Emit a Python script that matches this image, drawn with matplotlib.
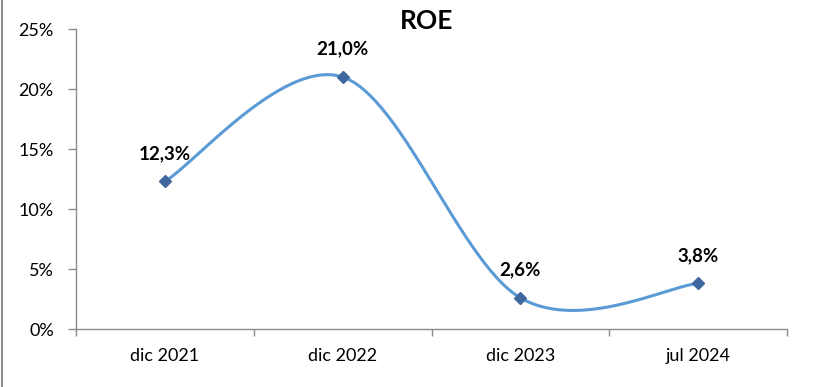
import numpy as np
import matplotlib
matplotlib.use('Agg')
import matplotlib.pyplot as plt
from matplotlib.lines import Line2D
from matplotlib.ticker import FuncFormatter, MultipleLocator


# data
categories = ['dic 2021', 'dic 2022', 'dic 2023', 'jul 2024']
roe = [12.3, 21.0, 2.6, 3.8]
labels = ['12,3%', '21,0%', '2,6%', '3,8%']

plt.rcParams['font.family'] = ['Lato', 'DejaVu Sans']

line_colour = '#5b9bd5'
marker_colour = '#41689e'
axis_colour = '#8c8c8c'


def smooth(xs, ys, n=60):
    # excel-like smoothing: cubic bezier with catmull-rom tangents
    px = [xs[0]] + list(xs) + [xs[-1]]
    py = [ys[0]] + list(ys) + [ys[-1]]
    out_x, out_y = [], []
    t = np.linspace(0, 1, n)
    for i in range(1, len(px) - 2):
        x0, x1, x2, x3 = px[i - 1], px[i], px[i + 1], px[i + 2]
        y0, y1, y2, y3 = py[i - 1], py[i], py[i + 1], py[i + 2]
        c1x, c1y = x1 + (x2 - x0) / 6, y1 + (y2 - y0) / 6
        c2x, c2y = x2 - (x3 - x1) / 6, y2 - (y3 - y1) / 6
        bx = (1 - t) ** 3 * x1 + 3 * (1 - t) ** 2 * t * c1x + 3 * (1 - t) * t ** 2 * c2x + t ** 3 * x2
        by = (1 - t) ** 3 * y1 + 3 * (1 - t) ** 2 * t * c1y + 3 * (1 - t) * t ** 2 * c2y + t ** 3 * y2
        out_x.extend(bx)
        out_y.extend(by)
    return np.array(out_x), np.array(out_y)


fig = plt.figure(figsize=(8.14, 3.87), dpi=100)
ax = fig.add_axes([76 / 814, 1 - 329 / 387, (787 - 76) / 814, 300 / 387])

xs = np.arange(len(categories))
sx, sy = smooth(xs, roe)
ax.plot(sx, sy, color=line_colour, linewidth=2.2, solid_capstyle='round', zorder=2)
ax.plot(xs, roe, linestyle='none', marker='D', markersize=6, color=marker_colour, zorder=3)

for x, y, s in zip(xs, roe, labels):
    ax.annotate(s, (x, y), xytext=(0, 14), textcoords='offset points',
                ha='center', va='bottom', fontsize=13.5, fontweight='bold', color='black')

ax.set_xlim(-0.5, len(categories) - 0.5)
ax.set_ylim(0, 25)
ax.yaxis.set_major_locator(MultipleLocator(5))
ax.yaxis.set_major_formatter(FuncFormatter(lambda v, p: f'{v:.0f}%'))

# category ticks between the labels, like excel
ax.set_xticks(np.arange(len(categories) + 1) - 0.5)
ax.set_xticklabels([])
ax.set_xticks(xs, minor=True)
ax.set_xticklabels(categories, minor=True)
ax.tick_params(axis='x', which='major', direction='out', length=5, width=1, color=axis_colour)
ax.tick_params(axis='x', which='minor', length=0, pad=14, labelsize=13)
ax.tick_params(axis='y', direction='out', length=6, width=1, color=axis_colour, pad=10, labelsize=13)

for side in ['top', 'right']:
    ax.spines[side].set_visible(False)
for side in ['left', 'bottom']:
    ax.spines[side].set_color(axis_colour)
    ax.spines[side].set_linewidth(1)

fig.text(427 / 814, 1 - 21 / 387, 'ROE', ha='center', va='center',
         fontsize=19, fontweight='bold', color='black')

# chart frame on the left edge
fig.add_artist(Line2D([1.5 / 814, 1.5 / 814], [0, 1], transform=fig.transFigure,
                      color=axis_colour, linewidth=1.5))

fig.savefig('out.png', dpi=100)
